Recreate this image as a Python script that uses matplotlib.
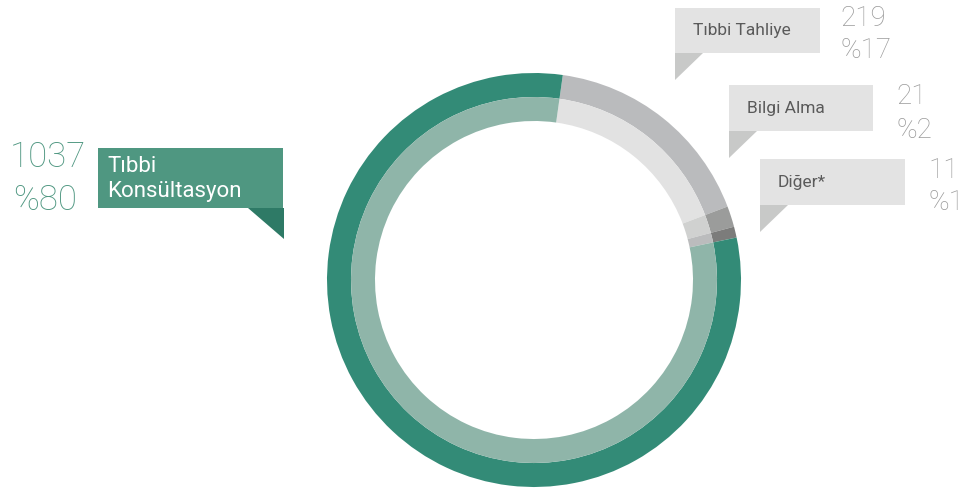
import matplotlib
matplotlib.use("Agg")
import matplotlib.pyplot as plt
from matplotlib.patches import Rectangle, Polygon

# Data
categories = ["Tıbbi Tahliye", "Bilgi Alma", "Diğer*", "Tıbbi\nKonsültasyon"]
counts = [219, 21, 11, 1037]
percent_labels = ["%17", "%2", "%1", "%80"]

outer_colors = ["#babbbd", "#9b9c9b", "#7c7c7b", "#338b77"]
inner_colors = ["#e2e2e2", "#d0d1d0", "#bbbcbd", "#8fb5a9"]

W, H = 965, 488
fig = plt.figure(figsize=(W / 100, H / 100), dpi=100)
ax = fig.add_axes([0, 0, 1, 1])

def py(y):
    # convert a top-down pixel row into the axes' bottom-up coordinate
    return H - y

cx, cy = 534, py(280)
R_outer, ring = 207, 24
start = 90 - 8

ax.pie(counts, radius=R_outer, center=(cx, cy), colors=outer_colors,
       startangle=start, counterclock=False,
       wedgeprops=dict(width=ring, linewidth=0))
ax.pie(counts, radius=R_outer - ring, center=(cx, cy), colors=inner_colors,
       startangle=start, counterclock=False,
       wedgeprops=dict(width=ring, linewidth=0))

font = "Roboto"

# Green callout for the main category
ax.add_patch(Rectangle((98, py(208)), 185, 60, color="#4f9781", lw=0, zorder=3))
ax.add_patch(Polygon([(248, py(208)), (284, py(208)), (284, py(239))],
                     closed=True, color="#2e7a66", lw=0, zorder=3))
ax.text(107, py(179), categories[3], color="white", fontsize=16,
        family=font, va="center", ha="left", linespacing=1.25, zorder=4)
ax.text(10, py(157), str(counts[3]), color="#4f9781", fontsize=25,
        family=font, fontweight="light", va="center", ha="left")
ax.text(13, py(200), percent_labels[3], color="#4f9781", fontsize=25,
        family=font, fontweight="light", va="center", ha="left")

# Grey callouts for the smaller categories
boxes = [
    (675, 8, 820, 53),
    (729, 85, 873, 131),
    (760, 159, 905, 205),
]
num_pos = [(840, 19, 51), (896, 96, 130), (928, 170, 203)]
for i, (x0, y0, x1, y1) in enumerate(boxes):
    ax.add_patch(Rectangle((x0, py(y1)), x1 - x0, y1 - y0,
                           color="#e3e3e3", lw=0, zorder=3))
    ax.add_patch(Polygon([(x0, py(y1)), (x0 + 28, py(y1)), (x0, py(y1 + 27))],
                         closed=True, color="#c8c9c8", lw=0, zorder=3))
    ax.text(x0 + 18, py((y0 + y1) / 2), categories[i], color="#5a5a5a",
            fontsize=12.5, family=font, va="center", ha="left", zorder=4)
    nx, ny1, ny2 = num_pos[i]
    ax.text(nx, py(ny1), str(counts[i]), color="#9a9a9a", fontsize=20,
            family=font, fontweight="light", va="center", ha="left")
    ax.text(nx, py(ny2), percent_labels[i], color="#9a9a9a", fontsize=20,
            family=font, fontweight="light", va="center", ha="left")

ax.set_xlim(0, W)
ax.set_ylim(0, H)
ax.set_aspect("auto")
ax.set_axis_off()

fig.savefig("out.png", dpi=100, facecolor="white")
